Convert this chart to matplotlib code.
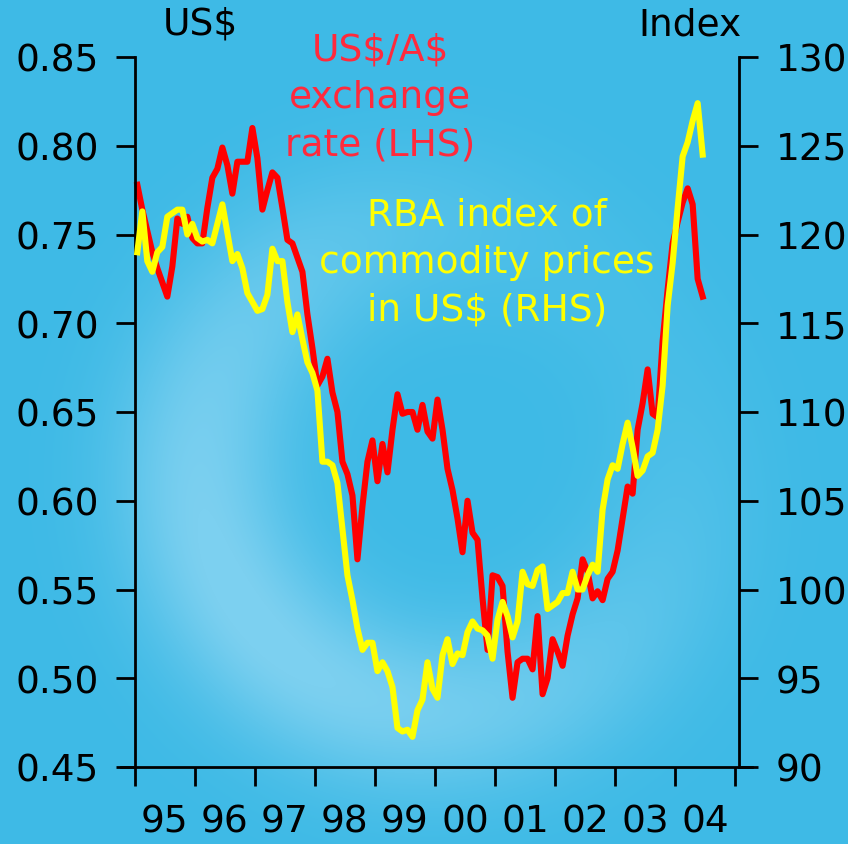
import numpy as np
import matplotlib
matplotlib.use("Agg")
import matplotlib.pyplot as plt

# monthly data, Jan 1995 .. Jun 2004
aud_usd = [0.778, 0.764, 0.752, 0.740, 0.731, 0.723, 0.715, 0.732, 0.759, 0.756,
           0.760, 0.748, 0.745, 0.745, 0.765, 0.782, 0.787, 0.799, 0.789, 0.773,
           0.791, 0.791, 0.791, 0.810, 0.793, 0.764, 0.775, 0.785, 0.782, 0.765,
           0.747, 0.745, 0.737, 0.729, 0.705, 0.686, 0.665, 0.670, 0.680, 0.661,
           0.650, 0.622, 0.615, 0.603, 0.567, 0.597, 0.622, 0.634, 0.611, 0.632,
           0.616, 0.640, 0.660, 0.649, 0.650, 0.650, 0.640, 0.654, 0.639, 0.635,
           0.657, 0.640, 0.618, 0.606, 0.590, 0.571, 0.600, 0.582, 0.578, 0.545,
           0.516, 0.558, 0.557, 0.552, 0.515, 0.489, 0.509, 0.511, 0.511, 0.505,
           0.535, 0.491, 0.500, 0.522, 0.515, 0.507, 0.524, 0.536, 0.545, 0.567,
           0.560, 0.545, 0.549, 0.544, 0.556, 0.560, 0.572, 0.590, 0.608, 0.604,
           0.640, 0.655, 0.674, 0.649, 0.647, 0.690, 0.719, 0.745, 0.757, 0.768,
           0.776, 0.767, 0.725, 0.715]

rba_index = [119.0, 121.3, 118.5, 117.9, 119.0, 119.3, 121.0, 121.2, 121.4, 121.4,
             120.0, 120.6, 119.8, 119.6, 119.7, 119.5, 120.6, 121.7, 120.1, 118.5,
             118.9, 118.1, 116.7, 116.2, 115.7, 115.8, 116.6, 119.2, 118.5, 118.5,
             116.2, 114.5, 115.5, 114.1, 112.8, 112.2, 111.2, 107.2, 107.2, 107.0,
             106.0, 103.4, 100.8, 99.4, 97.8, 96.6, 97.0, 97.0, 95.4, 95.9,
             95.4, 94.5, 92.2, 92.0, 92.1, 91.7, 93.2, 93.8, 95.9, 94.4,
             93.9, 96.3, 97.2, 95.8, 96.4, 96.3, 97.6, 98.2, 97.8, 97.7,
             97.4, 96.1, 98.3, 99.3, 98.5, 97.3, 98.2, 101.0, 100.3, 100.2,
             101.1, 101.3, 98.9, 99.1, 99.3, 99.8, 99.8, 101.0, 100.0, 100.0,
             100.8, 101.4, 101.0, 104.5, 106.2, 107.0, 106.8, 108.2, 109.4, 108.0,
             106.4, 106.7, 107.5, 107.7, 109.0, 111.5, 116.0, 118.4, 121.5, 124.4,
             125.2, 126.4, 127.4, 124.5]

years = ["95", "96", "97", "98", "99", "00", "01", "02", "03", "04"]
left_ticks = [0.45, 0.50, 0.55, 0.60, 0.65, 0.70, 0.75, 0.80, 0.85]
right_ticks = [90, 95, 100, 105, 110, 115, 120, 125, 130]

dates = 1995 + (np.arange(len(aud_usd)) + 0.5) / 12.0

plt.rcParams['font.family'] = ['DejaVu Sans']
plt.rcParams['text.parse_math'] = False
FS = 27

fig = plt.figure(figsize=(8.48, 8.45), dpi=100)

# blue background with a lighter swirl
bg = fig.add_axes([0, 0, 1, 1], zorder=-10)
h, w = 845, 848
yy, xx = np.mgrid[0:h, 0:w]
cx, cy = 440, 470
r = np.hypot(xx - cx, yy - cy)
th = np.arctan2(yy - cy, xx - cx)
ring = np.exp(-((r - 240) / 85.0) ** 2) * (0.6 + 0.45 * np.cos(th - 2.5))
ring = np.clip(ring, 0, 1)
base = np.array([62, 186, 230]) / 255.0
light = np.array([124, 208, 240]) / 255.0
img = base + ring[..., None] * (light - base)
bg.imshow(img, aspect='auto', extent=[0, 1, 0, 1])
bg.axis('off')

ax = fig.add_axes([121 / 848, 1 - 768 / 845, 631 / 848, 710 / 845])
ax.patch.set_alpha(0)
ax2 = ax.twinx()

ax2.plot(dates, rba_index, color='#ffff00', lw=4.4, zorder=3)
ax.plot(dates, aud_usd, color='#ff0000', lw=4.4, zorder=2)
ax2.set_zorder(ax.get_zorder() + 1)

ax.set_xlim(1994.77, 2005.28)
ax.set_ylim(0.45, 0.85)
ax2.set_ylim(90, 130)

for a in (ax, ax2):
    for s in a.spines.values():
        s.set_linewidth(2)
    a.spines['top'].set_visible(False)
ax.spines['right'].set_visible(False)
ax2.spines['left'].set_visible(False)
ax2.spines['bottom'].set_visible(False)
ax.spines['left'].set_position(('data', 1995))
ax2.spines['right'].set_position(('data', 2005.07))

ax.set_yticks(left_ticks)
ax.set_yticklabels([f"{t:.2f}" for t in left_ticks])
ax2.set_yticks(right_ticks)
ax2.set_yticklabels([str(t) for t in right_ticks])
ax.tick_params(axis='y', direction='out', length=14, width=2, labelsize=FS, pad=12)
ax2.tick_params(axis='y', direction='out', length=14, width=2, labelsize=FS, pad=12)

ax.set_xticks(np.arange(1995, 2006))
ax.set_xticklabels([])
ax.set_xticks(np.arange(1995.5, 2005), minor=True)
ax.set_xticklabels(years, minor=True)
ax.tick_params(axis='x', which='major', direction='out', length=14, width=2)
ax.tick_params(axis='x', which='minor', length=0, labelsize=FS, pad=26)

fig.text(200 / 848, 1 - 25 / 845, "US$", fontsize=FS, ha='center', va='center')
fig.text(690 / 848, 1 - 25 / 845, "Index", fontsize=FS, ha='center', va='center')

fig.text(380 / 848, 1 - 98 / 845, "US$/A$\nexchange\nrate (LHS)", color='#ff2a3c',
         fontsize=FS, ha='center', va='center', linespacing=1.42)
fig.text(487 / 848, 1 - 263 / 845, "RBA index of\ncommodity prices\nin US$ (RHS)",
         color='#ffff00', fontsize=FS, ha='center', va='center', linespacing=1.42)

fig.savefig("out.png", dpi=100)
